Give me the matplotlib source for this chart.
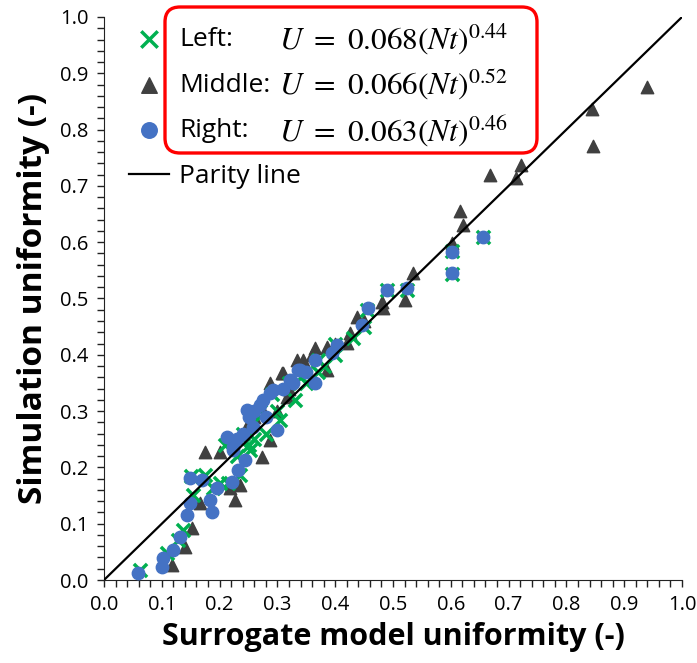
import numpy as np
import matplotlib.pyplot as plt
from matplotlib.patches import FancyBboxPatch
from matplotlib.ticker import MultipleLocator

plt.rcParams['font.family'] = ['Open Sans', 'DejaVu Sans']
plt.rcParams['mathtext.fontset'] = 'stix'

# Left (green x): surrogate vs simulation
left_x = [0.062, 0.109, 0.128, 0.137, 0.154, 0.151, 0.175, 0.201, 0.189, 0.215,
          0.235, 0.253, 0.240, 0.260, 0.270, 0.280, 0.304, 0.250, 0.230, 0.210,
          0.290, 0.320, 0.340, 0.370, 0.370, 0.400, 0.430, 0.450, 0.455, 0.490,
          0.524, 0.602, 0.602, 0.656, 0.350, 0.400, 0.260, 0.300, 0.330, 0.380]
left_y = [0.018, 0.048, 0.071, 0.089, 0.151, 0.184, 0.186, 0.172, 0.163, 0.172,
          0.186, 0.231, 0.260, 0.280, 0.300, 0.260, 0.284, 0.240, 0.220, 0.240,
          0.330, 0.350, 0.360, 0.370, 0.390, 0.420, 0.430, 0.450, 0.480, 0.515,
          0.515, 0.585, 0.544, 0.609, 0.350, 0.400, 0.250, 0.300, 0.320, 0.380]

# Middle (grey triangles)
mid_x = [0.939, 0.844, 0.846, 0.721, 0.713, 0.668, 0.616, 0.621, 0.602, 0.535,
         0.521, 0.483, 0.481, 0.438, 0.426, 0.420, 0.386, 0.365, 0.344, 0.334,
         0.310, 0.308, 0.386, 0.287, 0.317, 0.273, 0.287, 0.175, 0.201, 0.235,
         0.227, 0.218, 0.166, 0.152, 0.140, 0.118, 0.260, 0.270, 0.250, 0.340,
         0.360, 0.400, 0.450, 0.300, 0.320]
mid_y = [0.876, 0.837, 0.771, 0.737, 0.714, 0.719, 0.655, 0.631, 0.599, 0.545,
         0.497, 0.483, 0.494, 0.467, 0.439, 0.421, 0.414, 0.412, 0.391, 0.391,
         0.367, 0.367, 0.373, 0.350, 0.325, 0.218, 0.249, 0.227, 0.227, 0.169,
         0.142, 0.163, 0.137, 0.092, 0.059, 0.027, 0.290, 0.310, 0.280, 0.380,
         0.400, 0.420, 0.460, 0.300, 0.340]

# Right (blue circles)
right_x = [0.059, 0.102, 0.100, 0.119, 0.131, 0.144, 0.149, 0.149, 0.169, 0.195,
           0.183, 0.187, 0.221, 0.232, 0.244, 0.223, 0.213, 0.223, 0.247, 0.258,
           0.299, 0.292, 0.322, 0.339, 0.365, 0.365, 0.327, 0.336, 0.275, 0.287,
           0.394, 0.403, 0.446, 0.457, 0.490, 0.524, 0.602, 0.602, 0.656, 0.260,
           0.270, 0.280, 0.240, 0.310, 0.350, 0.230, 0.250]
right_y = [0.012, 0.039, 0.023, 0.053, 0.076, 0.115, 0.137, 0.181, 0.178, 0.163,
           0.142, 0.121, 0.174, 0.195, 0.213, 0.236, 0.254, 0.231, 0.302, 0.272,
           0.266, 0.337, 0.355, 0.373, 0.391, 0.350, 0.350, 0.373, 0.320, 0.332,
           0.403, 0.417, 0.453, 0.483, 0.515, 0.518, 0.583, 0.545, 0.609, 0.300,
           0.310, 0.290, 0.260, 0.340, 0.370, 0.250, 0.290]

labels = ['Left:', 'Middle:', 'Right:']
equations = [r'$U\ =\ 0.068(Nt)^{0.44}$', r'$U\ =\ 0.066(Nt)^{0.52}$', r'$U\ =\ 0.063(Nt)^{0.46}$']

fig = plt.figure(figsize=(6.97, 6.63), dpi=100)
ax = fig.add_axes([104 / 697, 83 / 663, 578 / 697, 563 / 663])

h_mid = ax.scatter(mid_x, mid_y, marker='^', s=80, color='#404040', zorder=3)
h_left = ax.scatter(left_x, left_y, marker='x', s=90, color='#00B050', linewidths=2.5, zorder=4)
h_right = ax.scatter(right_x, right_y, marker='o', s=80, color='#4472C4', zorder=5)
h_par, = ax.plot([0, 1], [0, 1], color='black', lw=1.6, zorder=6)

ax.set_xlim(0, 1)
ax.set_ylim(0, 1)
ax.xaxis.set_major_locator(MultipleLocator(0.1))
ax.yaxis.set_major_locator(MultipleLocator(0.1))
ax.xaxis.set_minor_locator(MultipleLocator(0.02))
ax.yaxis.set_minor_locator(MultipleLocator(0.02))
ax.tick_params(which='both', direction='out', length=5, width=1, labelsize=14.5,
               color='#222222', pad=6)
ax.spines['top'].set_visible(False)
ax.spines['right'].set_visible(False)
for s in ['left', 'bottom']:
    ax.spines[s].set_color('#222222')

ax.set_xlabel('Surrogate model uniformity (-)', fontsize=22, fontweight='bold', labelpad=5)
ax.set_ylabel('Simulation uniformity (-)', fontsize=24, fontweight='bold', labelpad=7)

leg = ax.legend([h_left, h_mid, h_right, h_par], labels + ['Parity line'],
                loc='upper left', bbox_to_anchor=(129 / 697, 1 - 27 / 663),
                bbox_transform=fig.transFigure, frameon=False, fontsize=19,
                labelspacing=0.78, handletextpad=0.4, handlelength=1.5,
                borderaxespad=0, borderpad=0, markerscale=1.25)

# put the equations on the same rows as the legend labels
fig.canvas.draw()
r = fig.canvas.get_renderer()
for t, eq in zip(leg.get_texts()[:3], equations):
    bb = t.get_window_extent(r)
    yc = (bb.y0 + bb.y1) / 2 / fig.bbox.height
    fig.text(279 / 697, yc, eq, fontsize=22.5, va='center', ha='left')

box = FancyBboxPatch((1.65, (663 - 153) / 100), 3.72, 1.46,
                     boxstyle='round,pad=0,rounding_size=0.15',
                     transform=fig.dpi_scale_trans, fill=False,
                     edgecolor='#FF0000', lw=2.4)
fig.patches.append(box)

fig.savefig('out.png', dpi=100)
